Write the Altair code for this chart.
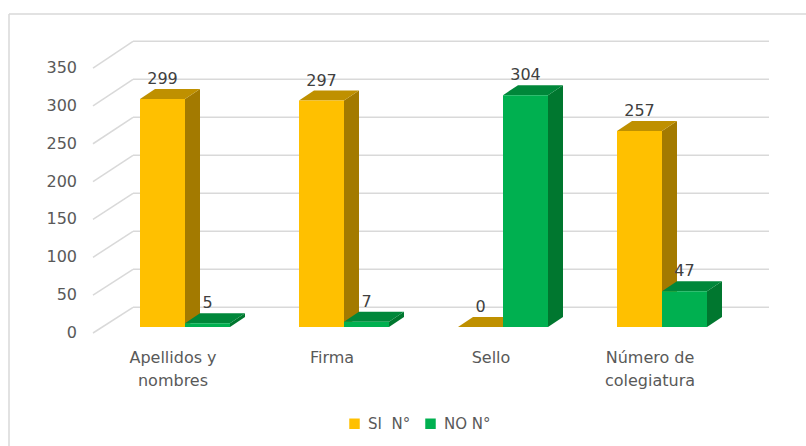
import altair as alt
import pandas as pd

# ---------------- data ----------------
categories = ["Apellidos y nombres", "Firma", "Sello", "Número de colegiatura"]
cat_labels = ["Apellidos y\nnombres", "Firma", "Sello", "Número de\ncolegiatura"]
si_values = [299, 297, 0, 257]
no_values = [5, 7, 304, 47]
series_names = ["SI\u00a0 N°", "NO N°"]
y_ticks = [0, 50, 100, 150, 200, 250, 300, 350]

# ---------------- layout / style constants ----------------
W, H = 806, 446
X0, STEP = 185, 159          # pixel of first category centre, pixels per category
Y0, PPU = 327, 0.7625        # pixel of value 0 (bar front), pixels per value unit
BW = 45 / STEP               # bar width (category units)
DX = 15 / STEP               # bar depth offset (x)
DY = 10 / PPU                # bar depth offset (y, value units)
GF, GO = 0.757 / PPU, -6 / PPU      # front edge of gridlines
GB, BO = 0.76 / PPU, 19.7 / PPU     # back wall gridlines
FRONT_L = (93 - X0) / STEP
BACK_L = (133 - X0) / STEP
BACK_R = (769 - X0) / STEP
LAB_SHIFT = -12 / STEP
CAT_Y = (Y0 - 363) / PPU

FRONT_COL = ["#FFC000", "#00B050"]
SIDE_COL = ["#A37A00", "#00772F"]
TOP_COL = ["#BF9000", "#00873A"]
FONT = "DejaVu Sans"

xs = alt.Scale(domain=[-X0 / STEP, (W - X0) / STEP], range=[0, W], nice=False, zero=False)
ys = alt.Scale(domain=[-(H - Y0) / PPU, Y0 / PPU], range=[H, 0], nice=False, zero=False)


def X(f):
    return alt.X(f + ":Q", scale=xs, axis=None)


def Y(f):
    return alt.Y(f + ":Q", scale=ys, axis=None, stack=None)


# ---------------- tables ----------------
front, side, top, labs = [], [], [], []
for i in range(len(categories)):
    for s, vals in enumerate([si_values, no_values]):
        v = vals[i]
        xl = i + (s - 1) * BW
        xr = xl + BW
        bid = f"{i}-{s}"
        front.append(dict(series=series_names[s], s=s, x=xl, x2=xr, y=0, y2=v))
        side += [dict(s=s, bar=bid, x=xr, y=0, y2=v),
                 dict(s=s, bar=bid, x=xr + DX, y=DY, y2=v + DY)]
        top += [dict(s=s, bar=bid, x=xl, y=v, y2=v),
                dict(s=s, bar=bid, x=xl + DX, y=v, y2=v + DY),
                dict(s=s, bar=bid, x=xr, y=v, y2=v + DY),
                dict(s=s, bar=bid, x=xr + DX, y=v + DY, y2=v + DY)]
        labs.append(dict(x=(xl + xr) / 2, y=v + DY, text=str(v)))
front = pd.DataFrame(front)
side = pd.DataFrame(side)
top = pd.DataFrame(top)
labs = pd.DataFrame(labs)

grid = pd.DataFrame({"v": y_ticks})
grid["yf"] = grid["v"] * GF + GO
grid["yb"] = grid["v"] * GB + BO
grid["xf"] = FRONT_L
grid["xb"] = BACK_L
grid["xr"] = BACK_R
grid["t"] = grid["v"].astype(str)

cats = pd.DataFrame({"x": [i + LAB_SHIFT for i in range(len(categories))],
                     "y": CAT_Y, "t": cat_labels})

one = pd.DataFrame({"a": [0]})

# ---------------- layers ----------------
border_top = alt.Chart(one).mark_rule(color="#D9D9D9", strokeWidth=1.5).encode(
    x=alt.value(9), x2=alt.value(W), y=alt.value(14))
border_left = alt.Chart(one).mark_rule(color="#D9D9D9", strokeWidth=1.5).encode(
    x=alt.value(9), y=alt.value(14), y2=alt.value(H))

back_grid = alt.Chart(grid).mark_rule(color="#D9D9D9", strokeWidth=1.5).encode(
    x=X("xb"), x2="xr:Q", y=Y("yb"))
wall_grid = alt.Chart(grid).mark_rule(color="#D9D9D9", strokeWidth=1.5).encode(
    x=X("xf"), x2="xb:Q", y=Y("yf"), y2="yb:Q")
tick_text = alt.Chart(grid).mark_text(font=FONT, fontSize=16, color="#595959",
                                      align="right", baseline="middle", dx=-16).encode(
    x=X("xf"), y=Y("yf"), text="t:N")

color_enc = alt.Color("series:N", scale=alt.Scale(domain=series_names, range=FRONT_COL),
                      legend=alt.Legend(orient="none", legendX=347, legendY=416,
                                        direction="horizontal", title=None,
                                        symbolType="square", symbolSize=110,
                                        symbolStrokeWidth=0, labelFont=FONT,
                                        labelFontSize=15, labelColor="#595959",
                                        labelOffset=6, columnPadding=12, padding=0))

bar_layers = []
for s in range(2):
    bar_layers.append(alt.Chart(side).transform_filter(alt.datum.s == s).mark_area(
        color=SIDE_COL[s], opacity=1).encode(x=X("x"), y=Y("y"), y2="y2:Q", detail="bar:N"))
    bar_layers.append(alt.Chart(top).transform_filter(alt.datum.s == s).mark_area(
        color=TOP_COL[s], opacity=1).encode(x=X("x"), y=Y("y"), y2="y2:Q", detail="bar:N"))
    bar_layers.append(alt.Chart(front).transform_filter(alt.datum.s == s).mark_rect(
        opacity=1).encode(x=X("x"), x2="x2:Q", y=Y("y"), y2="y2:Q", color=color_enc))

value_text = alt.Chart(labs).mark_text(font=FONT, fontSize=16, color="#404040",
                                       baseline="bottom", dy=-2).encode(
    x=X("x"), y=Y("y"), text="text:N")
cat_text = alt.Chart(cats).mark_text(font=FONT, fontSize=16, color="#595959",
                                     baseline="alphabetic", lineBreak="\n",
                                     lineHeight=23).encode(
    x=X("x"), y=Y("y"), text="t:N")

chart = alt.layer(
    border_top, border_left, back_grid, wall_grid, tick_text,
    *bar_layers, value_text, cat_text
).properties(
    width=W, height=H, autosize=alt.AutoSizeParams(type="none"), padding=0,
    background="white"
).configure_view(stroke=None)

chart.save("out.html", embed_options={"renderer": "svg", "actions": False})
